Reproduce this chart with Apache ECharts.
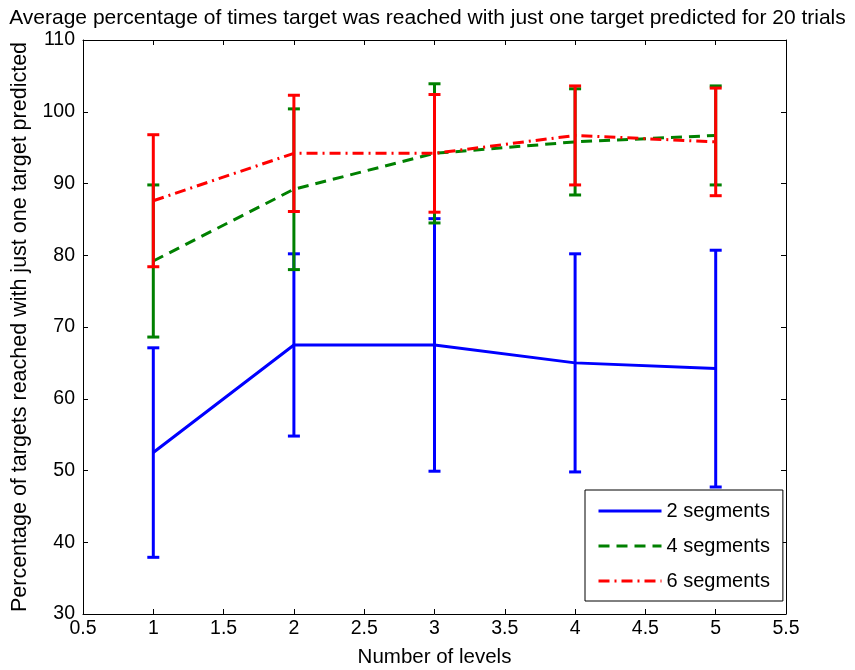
<!DOCTYPE html>
<html>
<head>
<meta charset="utf-8">
<script src="https://cdn.jsdelivr.net/npm/echarts@6/dist/echarts.min.js"></script>
<style>html,body{margin:0;padding:0;background:#fff}#c{width:855px;height:670px}</style>
</head>
<body>
<div id="c"></div>
<script>
const levels = [1, 2, 3, 4, 5];
const seriesNames = ['2 segments', '4 segments', '6 segments'];
const mean2 = [52.5, 67.5, 67.5, 65.0, 64.2];
const err2  = [14.6, 12.7, 17.6, 15.2, 16.5];
const mean4 = [79.2, 89.2, 94.2, 95.8, 96.7];
const err4  = [10.6, 11.2, 9.7, 7.4, 6.9];
const mean6 = [87.6, 94.2, 94.2, 96.7, 95.8];
const err6  = [9.2, 8.1, 8.2, 6.9, 7.5];
const xTicks = [0.5, 1, 1.5, 2, 2.5, 3, 3.5, 4, 4.5, 5, 5.5];
const yTicks = [30, 40, 50, 60, 70, 80, 90, 100, 110];

const colors = ['#0000ff', '#008000', '#ff0000'];
const dashes = ['solid', [11, 7], [11, 5, 2, 5]];
const means = [mean2, mean4, mean6];
const errs = [err2, err4, err6];
const FONT = '"Liberation Sans", Arial, sans-serif';

const chart = echarts.init(document.getElementById('c'));
const series = [];
means.forEach((m, i) => {
  series.push({
    name: seriesNames[i],
    type: 'line',
    data: levels.map((x, j) => [x, m[j]]),
    symbol: 'none',
    lineStyle: { color: colors[i], width: 3, type: dashes[i] },
    itemStyle: { color: colors[i] },
    animation: false,
    z: 2 + i * 2
  });
  series.push({
    name: seriesNames[i] + ' err',
    type: 'custom',
    data: levels.map((x, j) => [x, m[j] - errs[i][j], m[j] + errs[i][j]]),
    renderItem: function (params, api) {
      const lo = api.coord([api.value(0), api.value(1)]);
      const hi = api.coord([api.value(0), api.value(2)]);
      const hw = 6;
      const st = { stroke: colors[i], lineWidth: 3 };
      return {
        type: 'group',
        children: [
          { type: 'line', shape: { x1: lo[0], y1: lo[1], x2: hi[0], y2: hi[1] }, style: st },
          { type: 'line', shape: { x1: lo[0] - hw, y1: lo[1], x2: lo[0] + hw, y2: lo[1] }, style: st },
          { type: 'line', shape: { x1: hi[0] - hw, y1: hi[1], x2: hi[0] + hw, y2: hi[1] }, style: st }
        ]
      };
    },
    encode: { x: 0, y: [1, 2] },
    animation: false,
    z: 3 + i * 2
  });
});

const axisCommon = {
  axisLine: { show: true, onZero: false, lineStyle: { color: '#000', width: 1 } },
  axisTick: { show: true, inside: true, length: 5, lineStyle: { color: '#000' } },
  splitLine: { show: false }
};

chart.setOption({
  animation: false,
  backgroundColor: '#fff',
  title: {
    text: 'Average percentage of times target was reached with just one target predicted for 20 trials',
    left: 'center',
    top: 3,
    textStyle: { fontFamily: FONT, fontSize: 21, fontWeight: 'normal', color: '#000' }
  },
  grid: { left: 83, right: 69, top: 40, bottom: 56, outerBoundsMode: 'none', containLabel: false },
  xAxis: [
    Object.assign({
      type: 'value', min: 0.5, max: 5.5, interval: 0.5, position: 'bottom',
      name: 'Number of levels', nameLocation: 'middle', nameGap: 33,
      nameTextStyle: { fontFamily: FONT, fontSize: 20.5, color: '#000' },
      axisLabel: { fontFamily: FONT, fontSize: 19.5, color: '#000', margin: 5,
        formatter: v => xTicks.includes(v) ? String(v) : '' }
    }, axisCommon),
    Object.assign({
      type: 'value', min: 0.5, max: 5.5, interval: 0.5, position: 'top',
      axisLabel: { show: false }
    }, axisCommon)
  ],
  yAxis: [
    Object.assign({
      type: 'value', min: 30, max: 110, interval: 10, position: 'left',
      name: 'Percentage of targets reached with just one target predicted', nameLocation: 'middle', nameGap: 52,
      nameTextStyle: { fontFamily: FONT, fontSize: 21.5, color: '#000' },
      axisLabel: { fontFamily: FONT, fontSize: 19.5, color: '#000', margin: 8,
        formatter: v => yTicks.includes(v) ? String(v) : '' }
    }, axisCommon),
    Object.assign({
      type: 'value', min: 30, max: 110, interval: 10, position: 'right',
      axisLabel: { show: false }
    }, axisCommon)
  ],
  legend: {
    data: seriesNames,
    orient: 'vertical',
    left: 585, top: 490,
    padding: [11, 13, 10, 12],
    itemGap: 15,
    itemWidth: 63, itemHeight: 14,
    borderColor: '#000', borderWidth: 1, borderRadius: 0,
    backgroundColor: '#fff',
    itemStyle: { opacity: 0 },
    lineStyle: { width: 3 },
    textStyle: { fontFamily: FONT, fontSize: 20, lineHeight: 20, color: '#000' },
    selectedMode: false
  },
  series: series
});
</script>
</body>
</html>
